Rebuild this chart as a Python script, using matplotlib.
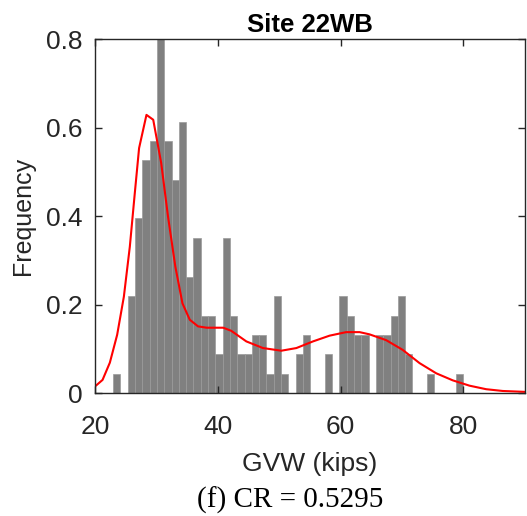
import numpy as np
import matplotlib
matplotlib.use('Agg')
import matplotlib.pyplot as plt

# histogram: left bin edge and bin width (kips), frequency per bin
bin_start = 22.98
bin_width = 1.188
freq = [0.044, 0.0, 0.219, 0.395, 0.526, 0.570, 0.833, 0.570, 0.482, 0.614,
        0.263, 0.351, 0.175, 0.175, 0.088, 0.351, 0.175, 0.088, 0.088, 0.132,
        0.132, 0.044, 0.219, 0.044, 0.0, 0.088, 0.132, 0.0, 0.0, 0.088,
        0.0, 0.219, 0.175, 0.132, 0.132, 0.0, 0.132, 0.132, 0.175, 0.219,
        0.088, 0.0, 0.0, 0.044, 0.0, 0.0, 0.0, 0.044]

# fitted density curve (red)
fit_x = [20.0, 21.25, 22.44, 23.63, 24.72, 25.69, 26.5, 27.2, 28.4, 29.5,
         30.8, 31.9, 33.1, 34.26, 35.45, 36.8, 38.2, 40.9, 42.2, 44.66,
         47.37, 50.35, 52.8, 55.5, 58.2, 60.9, 63.1, 64.7, 67.4, 70.1,
         72.85, 75.56, 78.26, 80.98, 83.7, 86.4, 90.0]
fit_y = [0.015, 0.030, 0.069, 0.132, 0.218, 0.331, 0.452, 0.554, 0.629, 0.618,
         0.52, 0.40, 0.286, 0.203, 0.166, 0.151, 0.148, 0.148, 0.141, 0.117,
         0.102, 0.096, 0.102, 0.117, 0.130, 0.138, 0.138, 0.133, 0.120, 0.098,
         0.068, 0.045, 0.029, 0.017, 0.009, 0.005, 0.003]

edges = bin_start + bin_width * np.arange(len(freq))

fig = plt.figure(figsize=(5.27, 5.16), dpi=100)
ax = fig.add_axes([0.180, 0.238, 0.816, 0.686])

ax.bar(edges, freq, width=bin_width, align='edge', color='#808080',
       edgecolor='#9a9a9a', linewidth=0.5)
ax.plot(fit_x, fit_y, color='red', linewidth=1.5)

ax.set_xlim(20, 90)
ax.set_ylim(0, 0.8)
ax.set_xticks([20, 40, 60, 80])
ax.set_yticks([0, 0.2, 0.4, 0.6, 0.8])
ax.set_yticklabels(['0', '0.2', '0.4', '0.6', '0.8'])

axc = '#262626'
for s in ax.spines.values():
    s.set_color(axc)
    s.set_linewidth(1.0)
ax.tick_params(direction='in', top=True, right=True, length=5, width=1,
               colors=axc, labelsize=19)
ax.tick_params(axis='x', pad=16)
ax.tick_params(axis='y', pad=9)
for lab in ax.get_xticklabels() + ax.get_yticklabels():
    lab.set_fontfamily('Liberation Sans')

ax.set_title('Site 22WB', fontsize=18.5, fontweight='bold',
             fontfamily='Liberation Sans', pad=5)
ax.set_ylabel('Frequency', fontsize=18, color=axc,
              fontfamily='Liberation Sans', labelpad=8)
ax.set_xlabel('GVW (kips)', fontsize=19, color=axc,
              fontfamily='Liberation Sans', labelpad=9)

fig.text(0.551, 0.030, '(f) CR = 0.5295', ha='center', va='center',
         fontsize=21, fontfamily='Liberation Serif', color='black')

fig.savefig('out.png', dpi=100)
